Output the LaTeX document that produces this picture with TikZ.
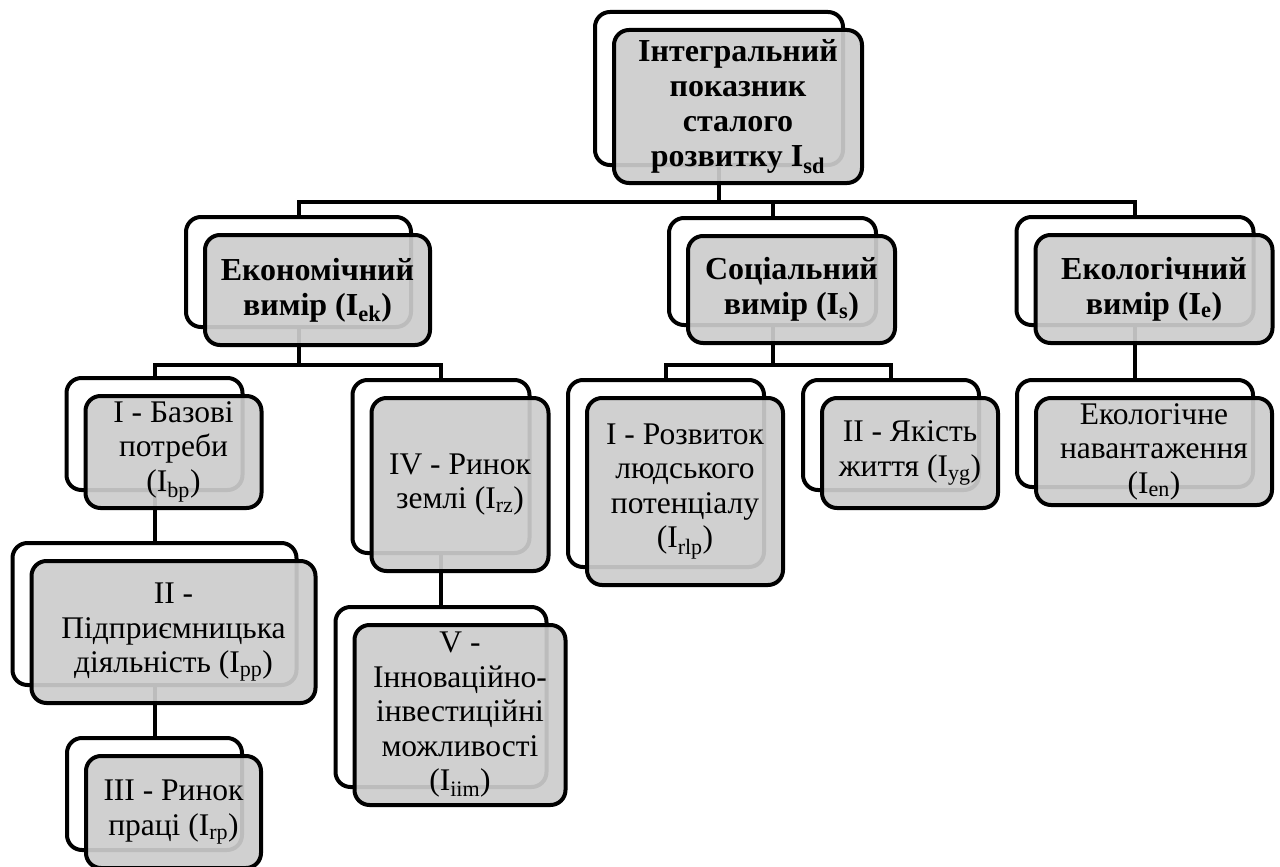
\documentclass[tikz,border=0pt]{standalone}
\usepackage{fontspec}
\setmainfont{Liberation Serif}
\usetikzlibrary{positioning}

\begin{document}
\begin{tikzpicture}[x=1pt,y=-1pt,
	boxsize/.style 2 args={minimum width=#1,minimum height=#2},
	backbox/.style={draw,rectangle,line width=4pt,rounded corners=15pt,fill=white,inner sep=0pt},
	frontbox/.style={draw,rectangle,line width=4pt,rounded corners=15pt,
		fill={rgb,255:red,204;green,204;blue,204},fill opacity=0.92,text opacity=1,
		align=center,inner sep=2pt,xshift=19pt,yshift=-18pt,font=\fontsize{31.5}{34.5}\selectfont},
	headbox/.style={frontbox,font=\fontsize{32}{35}\selectfont\bfseries},
	link/.style={line width=4pt}]

	\useasboundingbox (0,0) rectangle (1280,867);

	% back boxes
	\node[backbox,boxsize={248pt}{153pt}] (top_b) at (719,88.5) {};
	\node[backbox,boxsize={225pt}{110pt}] (eco_b) at (298.5,272) {};
	\node[backbox,boxsize={207pt}{107pt}] (soc_b) at (772.5,271.5) {};
	\node[backbox,boxsize={237pt}{108pt}] (ecl_b) at (1135,271) {};
	\node[backbox,boxsize={176pt}{112pt}] (bp_b) at (154.5,434) {};
	\node[backbox,boxsize={284pt}{142pt}] (pp_b) at (154.5,614) {};
	\node[backbox,boxsize={175pt}{112pt}] (rp_b) at (154.5,794) {};
	\node[backbox,boxsize={177pt}{173pt}] (rz_b) at (441,466.5) {};
	\node[backbox,boxsize={211pt}{180pt}] (iim_b) at (441,697) {};
	\node[backbox,boxsize={196pt}{187pt}] (rlp_b) at (666,473.5) {};
	\node[backbox,boxsize={176pt}{110pt}] (yg_b) at (891,435) {};
	\node[backbox,boxsize={236pt}{107pt}] (en_b) at (1135,433.5) {};

	% connectors
	\draw[link] (top_b.south) -- ++(0,35) -| (eco_b.north);
	\draw[link] (top_b.south) -- ++(0,35) -| (soc_b.north);
	\draw[link] (top_b.south) -- ++(0,35) -| (ecl_b.north);
	\draw[link] (eco_b.south) -- ++(0,36) -| (bp_b.north);
	\draw[link] (eco_b.south) -- ++(0,36) -| (rz_b.north);
	\draw[link] (soc_b.south) -- ++(0,38) -| (rlp_b.north);
	\draw[link] (soc_b.south) -- ++(0,38) -| (yg_b.north);
	\draw[link] (ecl_b.south) -- (en_b.north);
	\draw[link] (bp_b.south) -- (pp_b.north);
	\draw[link] (pp_b.south) -- (rp_b.north);
	\draw[link] (rz_b.south) -- (iim_b.north);

	% front boxes
	\node[headbox,boxsize={248pt}{153pt}] (top) at (top_b) {Інтегральний\\показник\\сталого\\розвитку I\textsubscript{sd}};
	\node[headbox,boxsize={225pt}{110pt}] (eco) at (eco_b) {Економічний\\вимір (I\textsubscript{ek})};
	\node[headbox,boxsize={207pt}{107pt}] (soc) at (soc_b) {Соціальний\\вимір (I\textsubscript{s})};
	\node[headbox,boxsize={237pt}{108pt}] (ecl) at (ecl_b) {Екологічний\\вимір (I\textsubscript{e})};
	\node[frontbox,boxsize={176pt}{112pt}] (bp) at (bp_b) {I - Базові\\потреби\\(I\textsubscript{bp})};
	\node[frontbox,boxsize={284pt}{142pt}] (pp) at (pp_b) {II -\\Підприємницька\\діяльність (I\textsubscript{pp})};
	\node[frontbox,boxsize={175pt}{112pt}] (rp) at (rp_b) {III - Ринок\\праці (I\textsubscript{rp})};
	\node[frontbox,boxsize={177pt}{173pt}] (rz) at (rz_b) {IV - Ринок\\землі (I\textsubscript{rz})};
	\node[frontbox,boxsize={211pt}{180pt}] (iim) at (iim_b) {V -\\Інноваційно-\\інвестиційні\\можливості\\(I\textsubscript{iim})};
	\node[frontbox,boxsize={196pt}{187pt}] (rlp) at (rlp_b) {I - Розвиток\\людського\\потенціалу\\(I\textsubscript{rlp})};
	\node[frontbox,boxsize={176pt}{110pt}] (yg) at (yg_b) {II - Якість\\життя (I\textsubscript{yg})};
	\node[frontbox,boxsize={236pt}{107pt}] (en) at (en_b) {Екологічне\\навантаження\\(I\textsubscript{en})};

\end{tikzpicture}
\end{document}
